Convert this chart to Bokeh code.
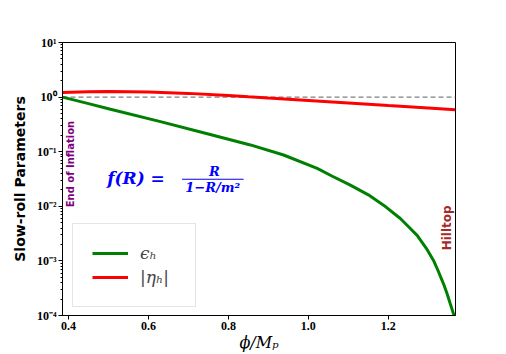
from bokeh.plotting import figure
from bokeh.models import (FixedTicker, CustomJSTickFormatter, Label, Span, Legend,
                          LegendItem, BoxAnnotation)
from bokeh.embed import file_html
from bokeh.resources import INLINE

# ---- data ----
phi_eps = [0.385, 0.45, 0.505, 0.63, 0.74, 0.855, 0.938, 1.022, 1.06, 1.105, 1.15,
           1.188, 1.23, 1.25, 1.272, 1.295, 1.313, 1.325, 1.338, 1.347, 1.355, 1.363, 1.367]
eps_H = [1.0, 0.76, 0.60, 0.356, 0.22, 0.133, 0.087, 0.0495, 0.0355, 0.0244, 0.0162,
         0.0105, 0.00597, 0.00427, 0.00294, 0.0017, 0.00102, 0.000646, 0.00038,
         0.000251, 0.000163, 0.000107, 0.0001]

phi_eta = [0.385, 0.45, 0.5, 0.55, 0.6, 0.7, 0.8, 0.85, 0.9, 1.0, 1.1, 1.2, 1.3, 1.367]
eta_H = [1.22, 1.25, 1.26, 1.255, 1.24, 1.17, 1.07, 1.01, 0.96, 0.87, 0.78, 0.70, 0.63, 0.585]

x_ticks = [0.4, 0.6, 0.8, 1.0, 1.2]
y_ticks = [1e-4, 1e-3, 1e-2, 1e-1, 1.0, 10.0]
y_minor = [k * 10.0 ** e for e in range(-4, 1) for k in range(2, 10)]

p = figure(width=506, height=354, title=None, y_axis_type="log",
           x_range=(0.385, 1.368), y_range=(1e-4, 10),
           output_backend="svg", toolbar_location=None,
           min_border_left=62, min_border_right=51, min_border_top=42, min_border_bottom=39)

p.grid.visible = False
p.outline_line_color = "black"
p.outline_line_width = 1
p.background_fill_color = "white"
p.border_fill_color = "white"

# axes
p.xaxis.ticker = FixedTicker(ticks=x_ticks, minor_ticks=[])
p.xaxis.formatter = CustomJSTickFormatter(code="return tick.toFixed(1);")
p.yaxis.ticker = FixedTicker(ticks=y_ticks, minor_ticks=y_minor)
p.yaxis.formatter = CustomJSTickFormatter(code="""
const e = Math.round(Math.log10(tick));
const sup = {'-':'\u207b','0':'\u2070','1':'\u00b9','2':'\u00b2','3':'\u00b3','4':'\u2074',
             '5':'\u2075','6':'\u2076','7':'\u2077','8':'\u2078','9':'\u2079'};
return '10' + String(e).split('').map(c => sup[c]).join('');
""")
for ax in (p.xaxis, p.yaxis):
    ax.axis_line_color = "black"
    ax.major_tick_line_color = "black"
    ax.minor_tick_line_color = "black"
    ax.major_tick_out = 4
    ax.major_tick_in = 0
    ax.minor_tick_out = 2
    ax.minor_tick_in = 0
    ax.major_label_text_font = "Liberation Serif"
    ax.major_label_text_font_style = "bold"
    ax.major_label_text_font_size = "12px"
    ax.major_label_text_color = "black"
    ax.major_label_standoff = 2

p.yaxis.axis_label = "Slow-roll Parameters"
p.yaxis.axis_label_text_font = "DejaVu Sans"
p.yaxis.axis_label_text_font_style = "bold"
p.yaxis.axis_label_text_font_size = "14px"
p.yaxis.axis_label_text_color = "black"
p.yaxis.axis_label_standoff = 6

p.xaxis.axis_label = "\u03d5/M\u209a"
p.xaxis.axis_label_text_font = "DejaVu Serif"
p.xaxis.axis_label_text_font_style = "italic"
p.xaxis.axis_label_text_font_size = "16px"
p.xaxis.axis_label_text_color = "black"
p.xaxis.axis_label_standoff = 0

# reference line at 1
p.add_layout(Span(location=1.0, dimension="width", line_color="gray",
                  line_dash="5 3", line_width=1.3, level="underlay"))

r_eps = p.line(phi_eps, eps_H, line_color="green", line_width=3)
r_eta = p.line(phi_eta, eta_H, line_color="red", line_width=3)

legend = Legend(items=[LegendItem(label="\u03f5\u2095", renderers=[r_eps]),
                       LegendItem(label="|\u03b7\u2095|", renderers=[r_eta])],
                location=(10, 8), padding=19, spacing=4, glyph_width=36, glyph_height=20,
                label_height=20, label_width=36, label_standoff=12,
                label_text_font="DejaVu Serif", label_text_font_style="italic",
                label_text_font_size="17px", border_line_color="#cccccc",
                border_line_width=1, background_fill_alpha=0.9)
p.add_layout(legend)

# annotations
p.add_layout(Label(x=0.404, y=0.0096, text="End of Inflation", angle=1.5708,
                   text_align="left", text_baseline="middle", text_font="DejaVu Sans",
                   text_font_style="bold", text_font_size="10px", text_color="purple"))
p.add_layout(Label(x=1.347, y=0.00156, text="Hilltop", angle=1.5708,
                   text_align="left", text_baseline="middle", text_font="DejaVu Sans",
                   text_font_style="bold", text_font_size="12px", text_color="brown"))

p.add_layout(Label(x=0.4967, y=0.0329, text="f(R) =", text_align="left",
                   text_baseline="middle", text_font="DejaVu Serif",
                   text_font_style="bold italic", text_font_size="17px", text_color="blue"))
p.add_layout(Label(x=0.765, y=0.0425, text="R", text_align="center",
                   text_baseline="middle", text_font="DejaVu Serif",
                   text_font_style="bold italic", text_font_size="13px", text_color="blue"))
p.add_layout(Label(x=0.761, y=0.0222, text="1\u2212R/m\u00b2", text_align="center",
                   text_baseline="middle", text_font="DejaVu Serif",
                   text_font_style="bold italic", text_font_size="13px", text_color="blue"))
p.add_layout(BoxAnnotation(left=0.684, right=0.838, bottom=0.0305, top=0.0318,
                           fill_color="blue", fill_alpha=1.0, line_color=None))

open("out.html", "w").write(file_html(p, INLINE))
